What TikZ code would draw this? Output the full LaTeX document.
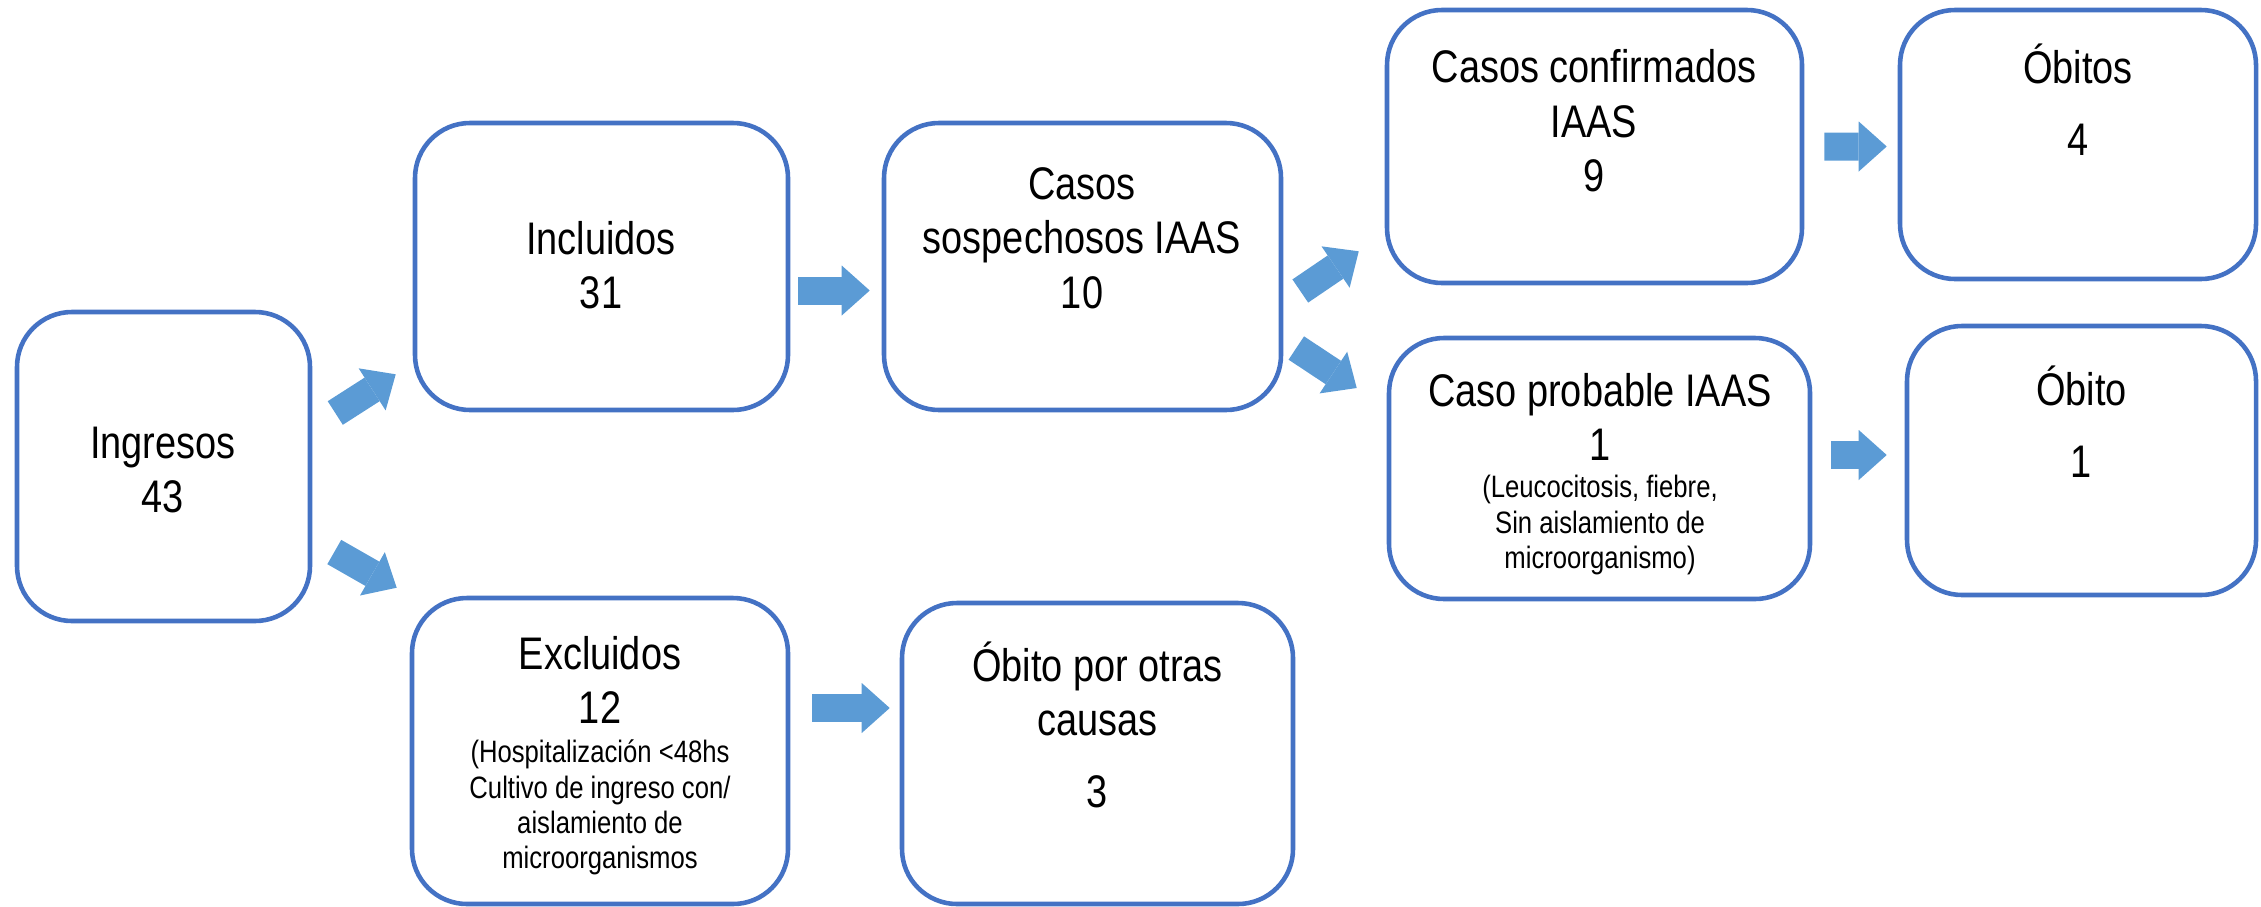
\documentclass[tikz,border=0pt]{standalone}
\usepackage{fontspec}
\setmainfont{Liberation Sans}[FakeStretch=0.83]
\usetikzlibrary{arrows.meta,calc}
\definecolor{BoxClr}{HTML}{4472C4}
\definecolor{ArrowClr}{HTML}{5B9BD5}

\begin{document}
\begin{tikzpicture}[
  box/.style 2 args={draw=BoxClr,line width=1.3pt,rounded corners=0.55cm,
    minimum width=#1,minimum height=#2,inner sep=0pt},
  lbl/.style={align=center,inner sep=0pt,font=\fontsize{13}{15.5}\selectfont},
  note/.style={align=center,inner sep=0pt,font=\fontsize{8.8}{10}\selectfont},
  fat/.style={ArrowClr,line width=0.28cm,
    -{Triangle[width=0.5cm,length=0.28cm,line width=0pt]}}]
\useasboundingbox (0,0) rectangle (22.61,-9.06);

\node[box={2.93cm}{3.09cm}] (ingr) at (1.635,-4.665) {};
\node[box={3.73cm}{2.87cm}] (incl) at (6.015,-2.665) {};
\node[box={3.97cm}{2.87cm}] (sosp) at (10.825,-2.665) {};
\node[box={4.15cm}{2.73cm}] (conf) at (15.945,-1.465) {};
\node[box={3.56cm}{2.69cm}] (obitos) at (20.78,-1.445) {};
\node[box={4.21cm}{2.61cm}] (prob) at (15.995,-4.685) {};
\node[box={3.49cm}{2.69cm}] (obito) at (20.815,-4.605) {};
\node[box={3.76cm}{3.06cm}] (excl) at (6.00,-7.51) {};
\node[box={3.91cm}{3.01cm}] (otras) at (10.975,-7.535) {};

\node[lbl] (ingr-t) at (1.63,-4.70) {Ingresos\\43};
\node[lbl] (incl-t) at (6.01,-2.65) {Incluidos\\31};
\node[lbl] (sosp-t) at (10.82,-2.38) {Casos\\sospechosos IAAS\\10};
\node[lbl] (conf-t) at (15.94,-1.21) {Casos confirmados\\IAAS\\9};
\node[lbl] (obitos-t) at (20.78,-1.00) {Óbitos\\[5pt]4};
\node[lbl] (prob-t) at (16.00,-4.17) {Caso probable IAAS\\1};
\node[note] (prob-n) at (16.00,-5.25) {(Leucocitosis, fiebre,\\Sin aislamiento de\\microorganismo)};
\node[lbl] (obito-t) at (20.815,-4.22) {Óbito\\[5pt]1};
\node[lbl] (excl-t) at (6.00,-6.80) {Excluidos\\12};
\node[note] (excl-n) at (6.00,-8.075) {(Hospitalización <48hs\\Cultivo de ingreso con/\\aislamiento de\\microorganismos};
\node[lbl] (otras-t) at (10.975,-7.25) {Óbito por otras\\causas\\[5pt]3};

\draw[fat] ([shift={(0.23,0.535)}]ingr.east) -- ([shift={(-0.17,0.38)}]incl.south west);
\draw[fat] ([shift={(0.22,-0.855)}]ingr.east) -- ([shift={(-0.13,0.08)}]excl.north west);
\draw[fat] ([shift={(0.08,-0.24)}]incl.east) -- ([shift={(-0.12,-0.24)}]sosp.west);
\draw[fat] ([shift={(0.17,-0.245)}]sosp.east) -- ([shift={(-0.26,0.34)}]conf.south west);
\draw[fat] ([shift={(0.13,-0.815)}]sosp.east) -- ([shift={(-0.30,0.805)}]prob.west);
\draw[fat] ([shift={(0.2,0)}]conf.east) -- ([shift={(-0.11,-0.02)}]obitos.west);
\draw[fat] ([shift={(0.19,0.135)}]prob.east) -- ([shift={(-0.18,0.055)}]obito.west);
\draw[fat] ([shift={(0.22,0.43)}]excl.east) -- ([shift={(-0.10,0.455)}]otras.west);

\end{tikzpicture}
\end{document}
